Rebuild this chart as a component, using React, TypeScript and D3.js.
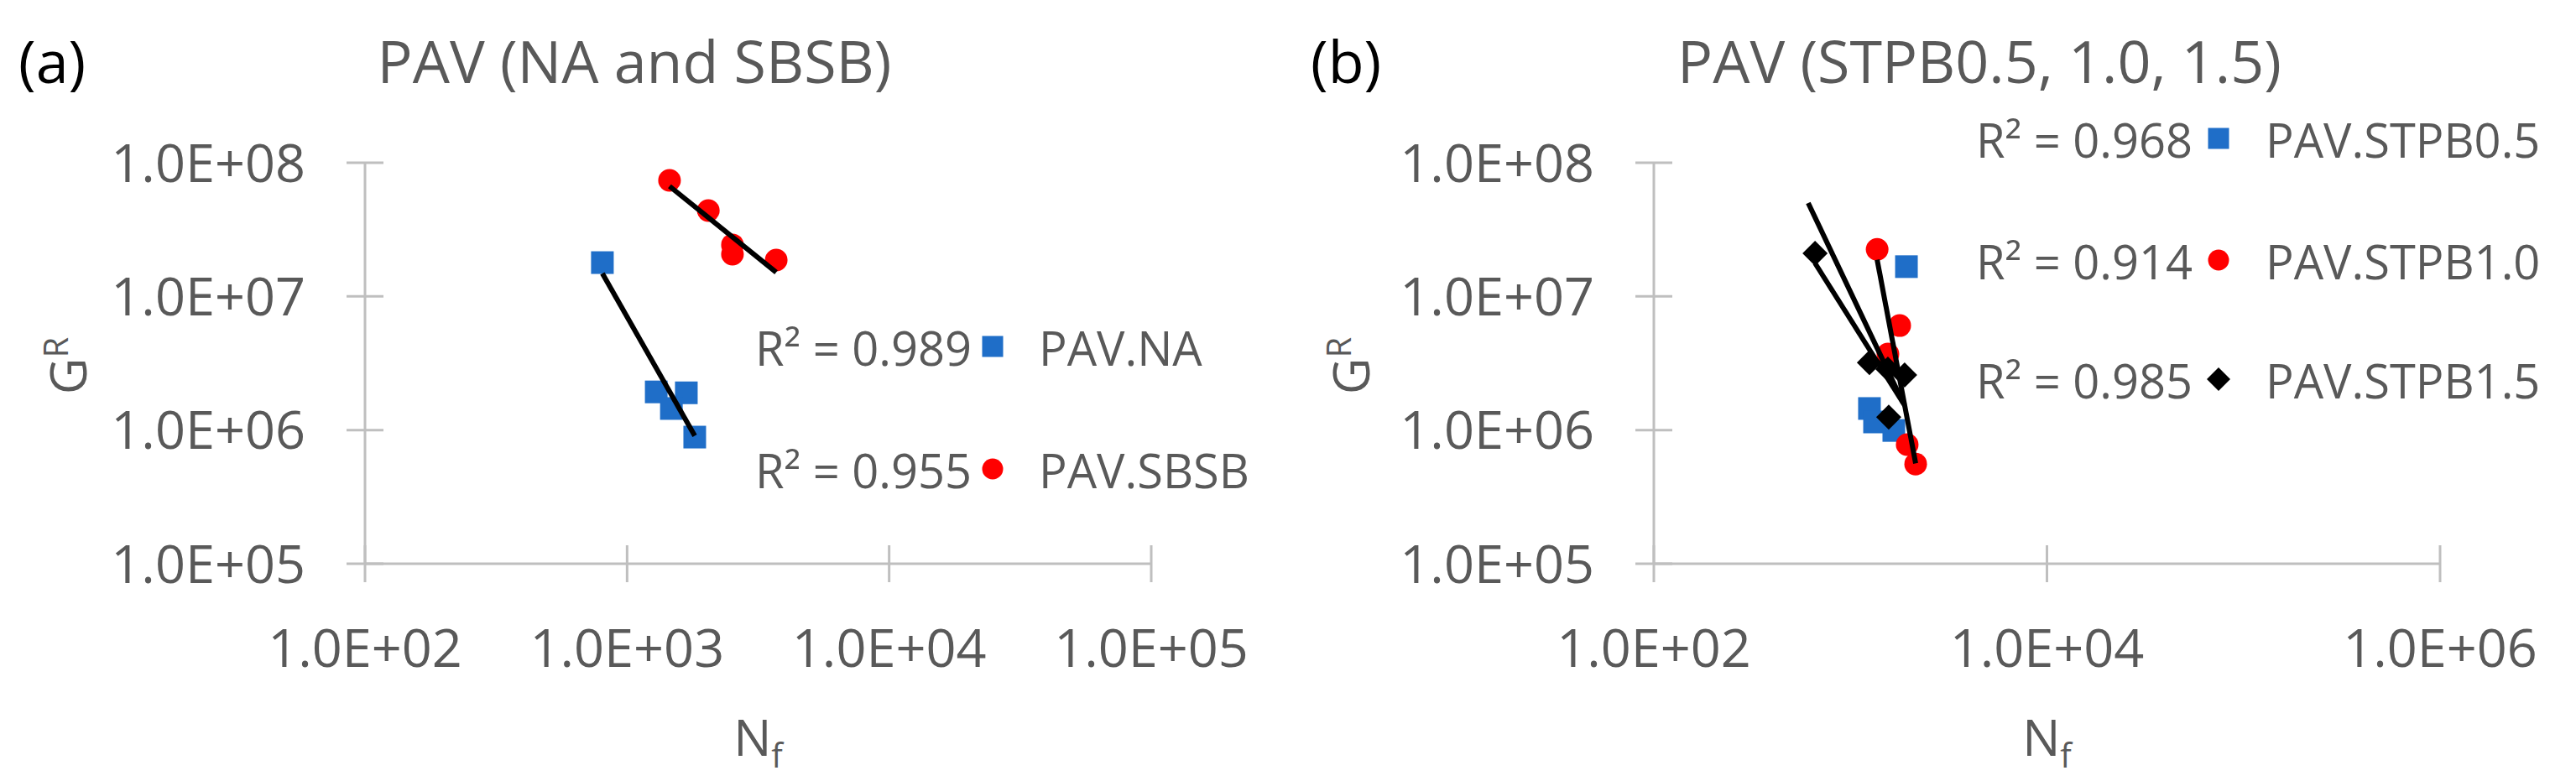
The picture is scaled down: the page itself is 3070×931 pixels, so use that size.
import React from "react";
import * as d3 from "d3";

// ---------- data ----------
const naN = [805, 1292, 1683, 1476, 1812];
const naG = [1.79e7, 1.93e6, 1.9e6, 1.45e6, 8.86e5];
const sbsbN = [1452, 2042, 2524, 2524, 3707];
const sbsbG = [7.38e7, 4.39e7, 2.43e7, 2.07e7, 1.87e7];

const stpb05N = [1928, 1250, 1327, 1663];
const stpb05G = [1.67e7, 1.45e6, 1.15e6, 9.93e5];
const stpb10N = [1368, 1782, 1552, 1945, 2148];
const stpb10G = [2.25e7, 6.05e6, 3.71e6, 7.78e5, 5.57e5];
const stpb15N = [661, 1250, 1552, 1888, 1567];
const stpb15G = [2.1e7, 3.2e6, 2.86e6, 2.58e6, 1.25e6];
// trendline of PAV.STPB0.5 as drawn in the reference (N, G end points)
const stpb05TrendN = [610, 1854];
const stpb05TrendG = [5.0e7, 1.6e6];

const yTickValues = [1e5, 1e6, 1e7, 1e8];
const yTickLabels = ["1.0E+05", "1.0E+06", "1.0E+07", "1.0E+08"];
const xTickValuesA = [1e2, 1e3, 1e4, 1e5];
const xTickLabelsA = ["1.0E+02", "1.0E+03", "1.0E+04", "1.0E+05"];
const xTickValuesB = [1e2, 1e4, 1e6];
const xTickLabelsB = ["1.0E+02", "1.0E+04", "1.0E+06"];

const r2A = ["R² = 0.989", "R² = 0.955"];
const namesA = ["PAV.NA", "PAV.SBSB"];
const r2B = ["R² = 0.968", "R² = 0.914", "R² = 0.985"];
const namesB = ["PAV.STPB0.5", "PAV.STPB1.0", "PAV.STPB1.5"];

const BLUE = "#1f6ec8";
const RED = "#ff0000";
const BLACK = "#000000";
const AXIS = "#bfbfbf";
const TEXT = "#595959";
const FONT = "'Open Sans', 'Noto Sans', sans-serif";

type Series = { n: number[]; g: number[]; color: string; shape: string; trend?: { n: number[]; g: number[] } };

function fitPower(n: number[], g: number[]) {
  const lx = n.map(Math.log10);
  const ly = g.map(Math.log10);
  const mx = d3.mean(lx)!;
  const my = d3.mean(ly)!;
  let sxy = 0, sxx = 0;
  lx.forEach((x, i) => { sxy += (x - mx) * (ly[i] - my); sxx += (x - mx) * (x - mx); });
  const b = sxy / sxx;
  const a = my - b * mx;
  const [x0, x1] = d3.extent(n) as [number, number];
  return { n: [x0, x1], g: [Math.pow(10, a + b * Math.log10(x0)), Math.pow(10, a + b * Math.log10(x1))] };
}

function Marker({ shape, color, x, y, s }: { shape: string; color: string; x: number; y: number; s: number }) {
  if (shape === "square") return <rect x={x - s / 2} y={y - s / 2} width={s} height={s} fill={color} />;
  if (shape === "circle") return <circle cx={x} cy={y} r={s / 2} fill={color} />;
  const h = s / 2;
  return <path d={`M${x},${y - h}L${x + h},${y}L${x},${y + h}L${x - h},${y}Z`} fill={color} />;
}

type PanelProps = {
  xDomain: [number, number]; xRange: [number, number];
  xTicks: number[]; xLabels: string[];
  series: Series[];
  tag: string; tagX: number; title: string; titleX: number;
  yTitleX: number;
  legend: { r2: string[]; names: string[]; r2Right: number; markerX: number; nameX: number; rows: number[] };
};

const Y_RANGE: [number, number] = [672, 194];
const TICK_FS = 63;
const LEG_FS = 56;
const TITLE_FS = 70;

function Panel(p: PanelProps) {
  const x = d3.scaleLog().domain(p.xDomain).range(p.xRange);
  const y = d3.scaleLog().domain([1e5, 1e8]).range(Y_RANGE);
  const ax = p.xRange[0];
  const ay = Y_RANGE[0];
  const tk = 22;
  const line = d3.line<[number, number]>().x((d) => x(d[0])).y((d) => y(d[1]));
  return (
    <g>
      {/* axes */}
      <line x1={ax} x2={ax} y1={Y_RANGE[1]} y2={ay} stroke={AXIS} strokeWidth={3} />
      <line x1={ax} x2={p.xRange[1]} y1={ay} y2={ay} stroke={AXIS} strokeWidth={3} />
      {yTickValues.map((v, i) => (
        <g key={"y" + i}>
          <line x1={ax - tk} x2={ax + tk} y1={y(v)} y2={y(v)} stroke={AXIS} strokeWidth={3} />
          <text x={ax - 71} y={y(v)} dy="0.36em" textAnchor="end" fontSize={TICK_FS} fill={TEXT}>{yTickLabels[i]}</text>
        </g>
      ))}
      {p.xTicks.map((v, i) => (
        <g key={"x" + i}>
          <line x1={x(v)} x2={x(v)} y1={ay - tk} y2={ay + tk} stroke={AXIS} strokeWidth={3} />
          <text x={x(v)} y={772} dy="0.36em" textAnchor="middle" fontSize={TICK_FS} fill={TEXT}>{p.xLabels[i]}</text>
        </g>
      ))}
      {/* axis titles */}
      <text transform={`translate(${p.yTitleX},436) rotate(-90)`} textAnchor="middle" dy="0.36em" fontSize={60} fill={TEXT}>
        G<tspan fontSize={40} dy="-0.55em">R</tspan>
      </text>
      <text x={(p.xRange[0] + p.xRange[1]) / 2} y={879} dy="0.36em" textAnchor="middle" fontSize={60} fill={TEXT}>
        N<tspan fontSize={40} dy="0.35em">f</tspan>
      </text>
      {/* titles */}
      <text x={p.tagX} y={74} dy="0.36em" fontSize={TITLE_FS} fill="#000">{p.tag}</text>
      <text x={p.titleX} y={74} dy="0.36em" textAnchor="middle" fontSize={TITLE_FS} fill={TEXT}>{p.title}</text>
      {/* markers */}
      {p.series.map((s, si) => (
        <g key={"s" + si}>
          {s.n.map((n, i) => (
            <Marker key={i} shape={s.shape} color={s.color} x={x(n)} y={y(s.g[i])} s={s.shape === "diamond" ? 30 : 27} />
          ))}
        </g>
      ))}
      {/* trendlines */}
      {p.series.map((s, si) => {
        const t = s.trend ?? fitPower(s.n, s.g);
        const pts: [number, number][] = t.n.map((n, i) => [n, t.g[i]]);
        return <path key={"t" + si} d={line(pts)!} stroke="#000" strokeWidth={6} fill="none" />;
      })}
      {/* legend */}
      {p.legend.rows.map((ry, i) => (
        <g key={"l" + i}>
          <text x={p.legend.r2Right} y={ry} dy="0.36em" textAnchor="end" fontSize={LEG_FS} fill={TEXT}>{p.legend.r2[i]}</text>
          <Marker shape={p.series[i].shape} color={p.series[i].color} x={p.legend.markerX} y={ry - 3} s={p.series[i].shape === "diamond" ? 28 : 25} />
          <text x={p.legend.nameX} y={ry} dy="0.36em" fontSize={LEG_FS} fill={TEXT}>{p.legend.names[i]}</text>
        </g>
      ))}
    </g>
  );
}

export default function App() {
  const seriesA: Series[] = [
    { n: naN, g: naG, color: BLUE, shape: "square" },
    { n: sbsbN, g: sbsbG, color: RED, shape: "circle" },
  ];
  const seriesB: Series[] = [
    { n: stpb05N, g: stpb05G, color: BLUE, shape: "square", trend: { n: stpb05TrendN, g: stpb05TrendG } },
    { n: stpb10N, g: stpb10G, color: RED, shape: "circle" },
    { n: stpb15N, g: stpb15G, color: BLACK, shape: "diamond" },
  ];
  return (
    <svg width={3070} height={931} style={{ display: "block", position: "absolute", left: 0, top: 0, background: "#fff" }} fontFamily={FONT}>
      <rect width={3070} height={931} fill="#fff" />
      <Panel
        xDomain={[1e2, 1e5]} xRange={[435, 1372]} xTicks={xTickValuesA} xLabels={xTickLabelsA}
        series={seriesA} tag="(a)" tagX={22} title="PAV (NA and SBSB)" titleX={756} yTitleX={81}
        legend={{ r2: r2A, names: namesA, r2Right: 1158, markerX: 1183, nameX: 1238, rows: [416, 562] }}
      />
      <Panel
        xDomain={[1e2, 1e6]} xRange={[1971, 2908]} xTicks={xTickValuesB} xLabels={xTickLabelsB}
        series={seriesB} tag="(b)" tagX={1562} title="PAV (STPB0.5, 1.0, 1.5)" titleX={2359} yTitleX={1610}
        legend={{ r2: r2B, names: namesB, r2Right: 2613, markerX: 2644, nameX: 2700, rows: [168, 313, 455] }}
      />
    </svg>
  );
}
